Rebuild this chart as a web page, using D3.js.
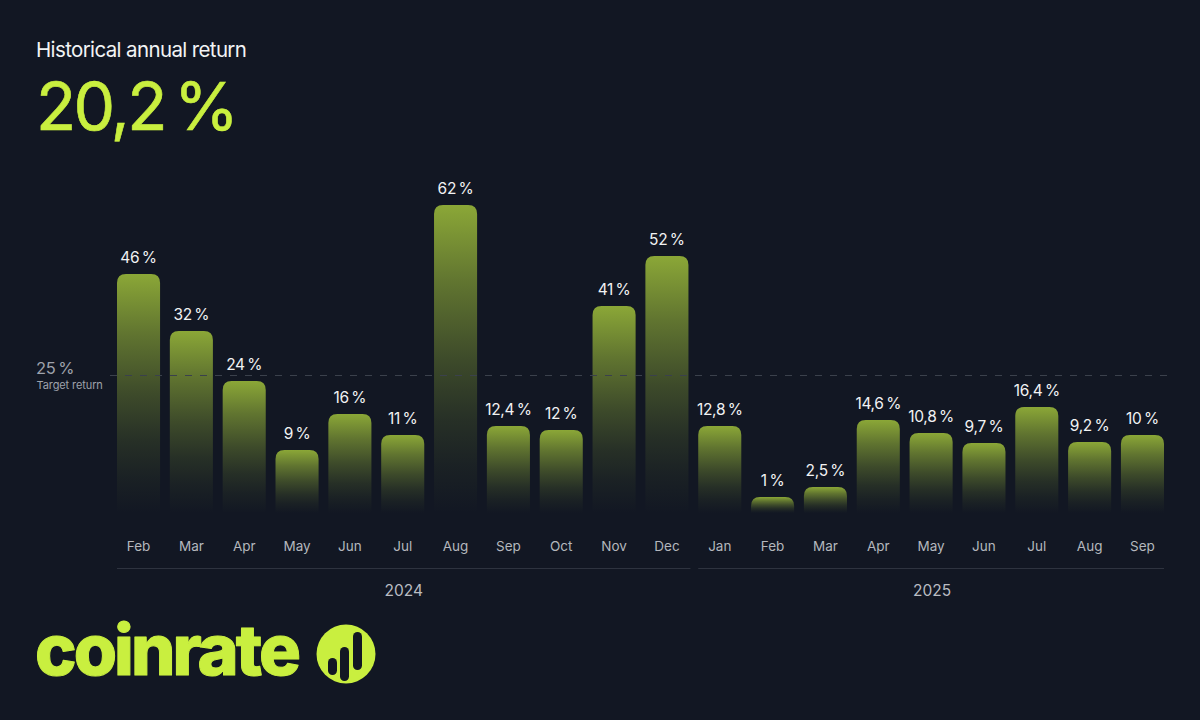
<!DOCTYPE html>
<html>
<head>
<meta charset="utf-8">
<script src="https://cdn.jsdelivr.net/npm/d3@7"></script>
<style>
  html, body { margin: 0; padding: 0; background: #121723; }
  svg { display: block; font-family: Inter, sans-serif; }
</style>
</head>
<body>
<svg id="chart" width="1200" height="720"></svg>
<script>
const months = ["Feb","Mar","Apr","May","Jun","Jul","Aug","Sep","Oct","Nov","Dec","Jan","Feb","Mar","Apr","May","Jun","Jul","Aug","Sep"];
const years = ["2024","2024","2024","2024","2024","2024","2024","2024","2024","2024","2024","2025","2025","2025","2025","2025","2025","2025","2025","2025"];
const values = [46,32,24,9,16,11,62,12.4,12,41,52,12.8,1,2.5,14.6,10.8,9.7,16.4,9.2,10];

// the bars in the picture are not on a straight linear scale, so the scale has knots
const scaleKnots = [0,1,2.5,9,9.2,9.7,10,10.8,11,12,12.4,12.8,14.6,16,16.4,24,25,32,41,46,52,62];
const scalePixels = [513,497,487,450,442,443,435,433,435,430,426,426,420,414,407,381,376,331,306,274,256,205];

const targetValue = 25;

const comma = v => String(v).replace(".", ",") + "\u2009%";

const svg = d3.select("#chart");
const defs = svg.append("defs");

const grad = defs.append("linearGradient")
  .attr("id", "barFill")
  .attr("x1", 0).attr("y1", 0).attr("x2", 0).attr("y2", 1);
[[0, 1], [0.25, 0.65], [0.5, 0.36], [0.7, 0.17], [0.85, 0.07], [1, 0]].forEach(s => {
  grad.append("stop")
    .attr("offset", s[0])
    .attr("stop-color", "#8ba737")
    .attr("stop-opacity", s[1]);
});

const keys = months.map((m, i) => i);
const x = d3.scaleBand().domain(keys).range([117, 1164]).paddingInner(0.185).paddingOuter(0);
const y = d3.scaleLinear().domain(scaleKnots).range(scalePixels);

// header
svg.append("text").attr("x", 36).attr("y", 57)
  .attr("font-size", 20.5).attr("letter-spacing", -0.63).attr("fill", "#f2f4f5")
  .text("Historical annual return");
svg.append("text").attr("x", 36).attr("y", 130)
  .attr("font-size", 66).attr("letter-spacing", -2.7)
  .attr("fill", "#c9ef3f").attr("stroke", "#c9ef3f").attr("stroke-width", 0.6)
  .text("20,2\u2009%");

// bars
const r = 9;
svg.append("g").selectAll("path")
  .data(values)
  .join("path")
  .attr("fill", "url(#barFill)")
  .attr("d", (d, i) => {
    const x0 = x(i), w = x.bandwidth(), top = y(d), bot = y(0);
    const rr = Math.min(r, (bot - top));
    return `M${x0},${bot}V${top + rr}Q${x0},${top} ${x0 + rr},${top}H${x0 + w - rr}Q${x0 + w},${top} ${x0 + w},${top + rr}V${bot}Z`;
  });

// target line
svg.append("line")
  .attr("x1", 110).attr("x2", 1168)
  .attr("y1", y(targetValue) - 0.5).attr("y2", y(targetValue) - 0.5)
  .attr("stroke", "#3b414c")
  .attr("stroke-dasharray", "7 8");
svg.append("text").attr("x", 36).attr("y", 374)
  .attr("font-size", 16.5).attr("letter-spacing", -0.3).attr("fill", "#9ea2ab")
  .text(comma(targetValue));
svg.append("text").attr("x", 36.5).attr("y", 389)
  .attr("font-size", 11).attr("letter-spacing", -0.1).attr("fill", "#9ea2ab")
  .text("Target return");

// value labels
svg.append("g").selectAll("text")
  .data(values)
  .join("text")
  .attr("x", (d, i) => x(i) + x.bandwidth() / 2)
  .attr("y", d => y(d) - 11.5)
  .attr("text-anchor", "middle")
  .attr("font-size", 15.5)
  .attr("letter-spacing", -0.3)
  .attr("fill", "#f1f2f3")
  .text(comma);

// month axis
const axis = d3.axisBottom(x).tickSize(0).tickPadding(0).tickFormat(i => months[i]);
const axisG = svg.append("g").attr("transform", "translate(0,541)").call(axis);
axisG.select(".domain").remove();
axisG.selectAll("text")
  .attr("font-family", "Inter, sans-serif")
  .attr("font-size", 13.5)
  .attr("fill", "#b4b7bd");

// year groups
const yearNames = Array.from(new Set(years));
yearNames.forEach(yr => {
  const idx = keys.filter(i => years[i] === yr);
  const x0 = x(idx[0]);
  const x1 = x(idx[idx.length - 1]) + x.bandwidth();
  svg.append("line")
    .attr("x1", x0).attr("x2", x1 + (yr === "2024" ? 2 : 0))
    .attr("y1", 568.5).attr("y2", 568.5)
    .attr("stroke", "#2e333f");
  svg.append("text")
    .attr("x", (x0 + x1) / 2 + 1).attr("y", 596)
    .attr("text-anchor", "middle")
    .attr("font-size", 15.5)
    .attr("fill", "#b9bcc2")
    .text(yr);
});

// logo
svg.append("text").attr("x", 35).attr("y", 675)
  .attr("font-size", 70).attr("font-weight", 800)
  .attr("fill", "#c9ef3f").attr("stroke", "#c9ef3f").attr("stroke-width", 1)
  .attr("stroke-linejoin", "round")
  .attr("textLength", 266).attr("lengthAdjust", "spacing")
  .text("coinrate");

const logo = svg.append("g").attr("transform", "translate(346,654)");
logo.append("circle").attr("r", 29.5).attr("fill", "#c9ef3f");
logo.selectAll("rect")
  .data([[-18, 4, 17], [-6, -7, 34], [7, -22, 38]])
  .join("rect")
  .attr("x", d => d[0]).attr("y", d => d[1])
  .attr("width", 9).attr("height", d => d[2])
  .attr("rx", 4.5)
  .attr("fill", "#121723");
</script>
</body>
</html>
